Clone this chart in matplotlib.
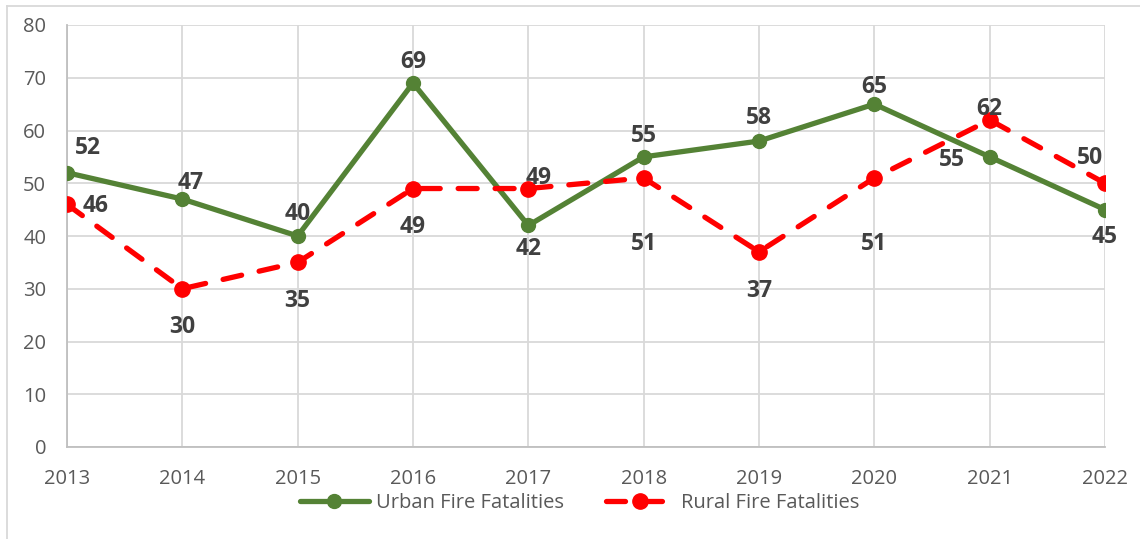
import matplotlib
matplotlib.use("Agg")
import matplotlib.pyplot as plt
from matplotlib.lines import Line2D

years = [2013, 2014, 2015, 2016, 2017, 2018, 2019, 2020, 2021, 2022]
urban = [52, 47, 40, 69, 42, 55, 58, 65, 55, 45]
rural = [46, 30, 35, 49, 49, 51, 37, 51, 62, 50]
y_ticks = [0, 10, 20, 30, 40, 50, 60, 70, 80]

# label offsets in pixels (dx, dy up positive)
urban_off = [(21, 25), (8, 16), (0, 22), (0, 21), (0, -24), (0, 21), (0, 23), (0, 17), (-38, -3), (0, -27)]
rural_off = [(29, -2), (0, -38), (0, -39), (0, -38), (10, 11), (0, -66), (0, -39), (0, -66), (0, 11), (-15, 25)]

GREEN = "#548235"
RED = "#ff0000"
TXT = "#404040"
TICK = "#595959"
GRID = "#d9d9d9"

plt.rcParams['font.family'] = ['Open Sans', 'DejaVu Sans']

fig = plt.figure(figsize=(11.4, 5.39), dpi=100)
ax = fig.add_axes([67/1140, 1-447/539, (1105-67)/1140, (447-25)/539])

ax.plot(years, urban, color=GREEN, lw=3.8, marker='o', ms=10, solid_capstyle='round', zorder=3,
        label="Urban Fire Fatalities")
ax.plot(years, rural, color=RED, lw=3.8, marker='o', ms=11, dashes=(3.6, 3.4),
        dash_capstyle='round', zorder=3, label="Rural Fire Fatalities")

k = 0.72
for x, v, (dx, dy) in zip(years, urban, urban_off):
    ax.annotate(str(v), (x, v), xytext=(dx*k, dy*k), textcoords='offset points',
                ha='center', va='center', fontsize=16.5, fontweight='bold', color=TXT, zorder=4)
for x, v, (dx, dy) in zip(years, rural, rural_off):
    ax.annotate(str(v), (x, v), xytext=(dx*k, dy*k), textcoords='offset points',
                ha='center', va='center', fontsize=16.5, fontweight='bold', color=TXT, zorder=4)

ax.set_xlim(2013, 2022)
ax.set_ylim(0, 80)
ax.set_xticks(years)
ax.set_yticks(y_ticks)
ax.tick_params(length=0, labelsize=14.5, colors=TICK)
ax.tick_params(axis='y', pad=15)
ax.tick_params(axis='x', pad=16)
ax.grid(True, color=GRID, lw=1.3)
ax.set_axisbelow(True)
for s in ['top', 'right']:
    ax.spines[s].set_visible(False)
for s in ['left', 'bottom']:
    ax.spines[s].set_color('#bfbfbf')
    ax.spines[s].set_linewidth(1.3)

leg = fig.legend(loc='center', bbox_to_anchor=(580/1140, 1-503/539), ncol=2, frameon=False,
                 fontsize=14.5, handlelength=3.4, columnspacing=2.1, handletextpad=0.35)
for t in leg.get_texts():
    t.set_color(TICK)

# outer chart frame
fig.add_artist(Line2D([7/1140, 1], [1-6/539, 1-6/539], color=GRID, lw=1.3, transform=fig.transFigure))
fig.add_artist(Line2D([7/1140, 7/1140], [0, 1-6/539], color=GRID, lw=1.3, transform=fig.transFigure))

fig.savefig("out.png", dpi=100)
